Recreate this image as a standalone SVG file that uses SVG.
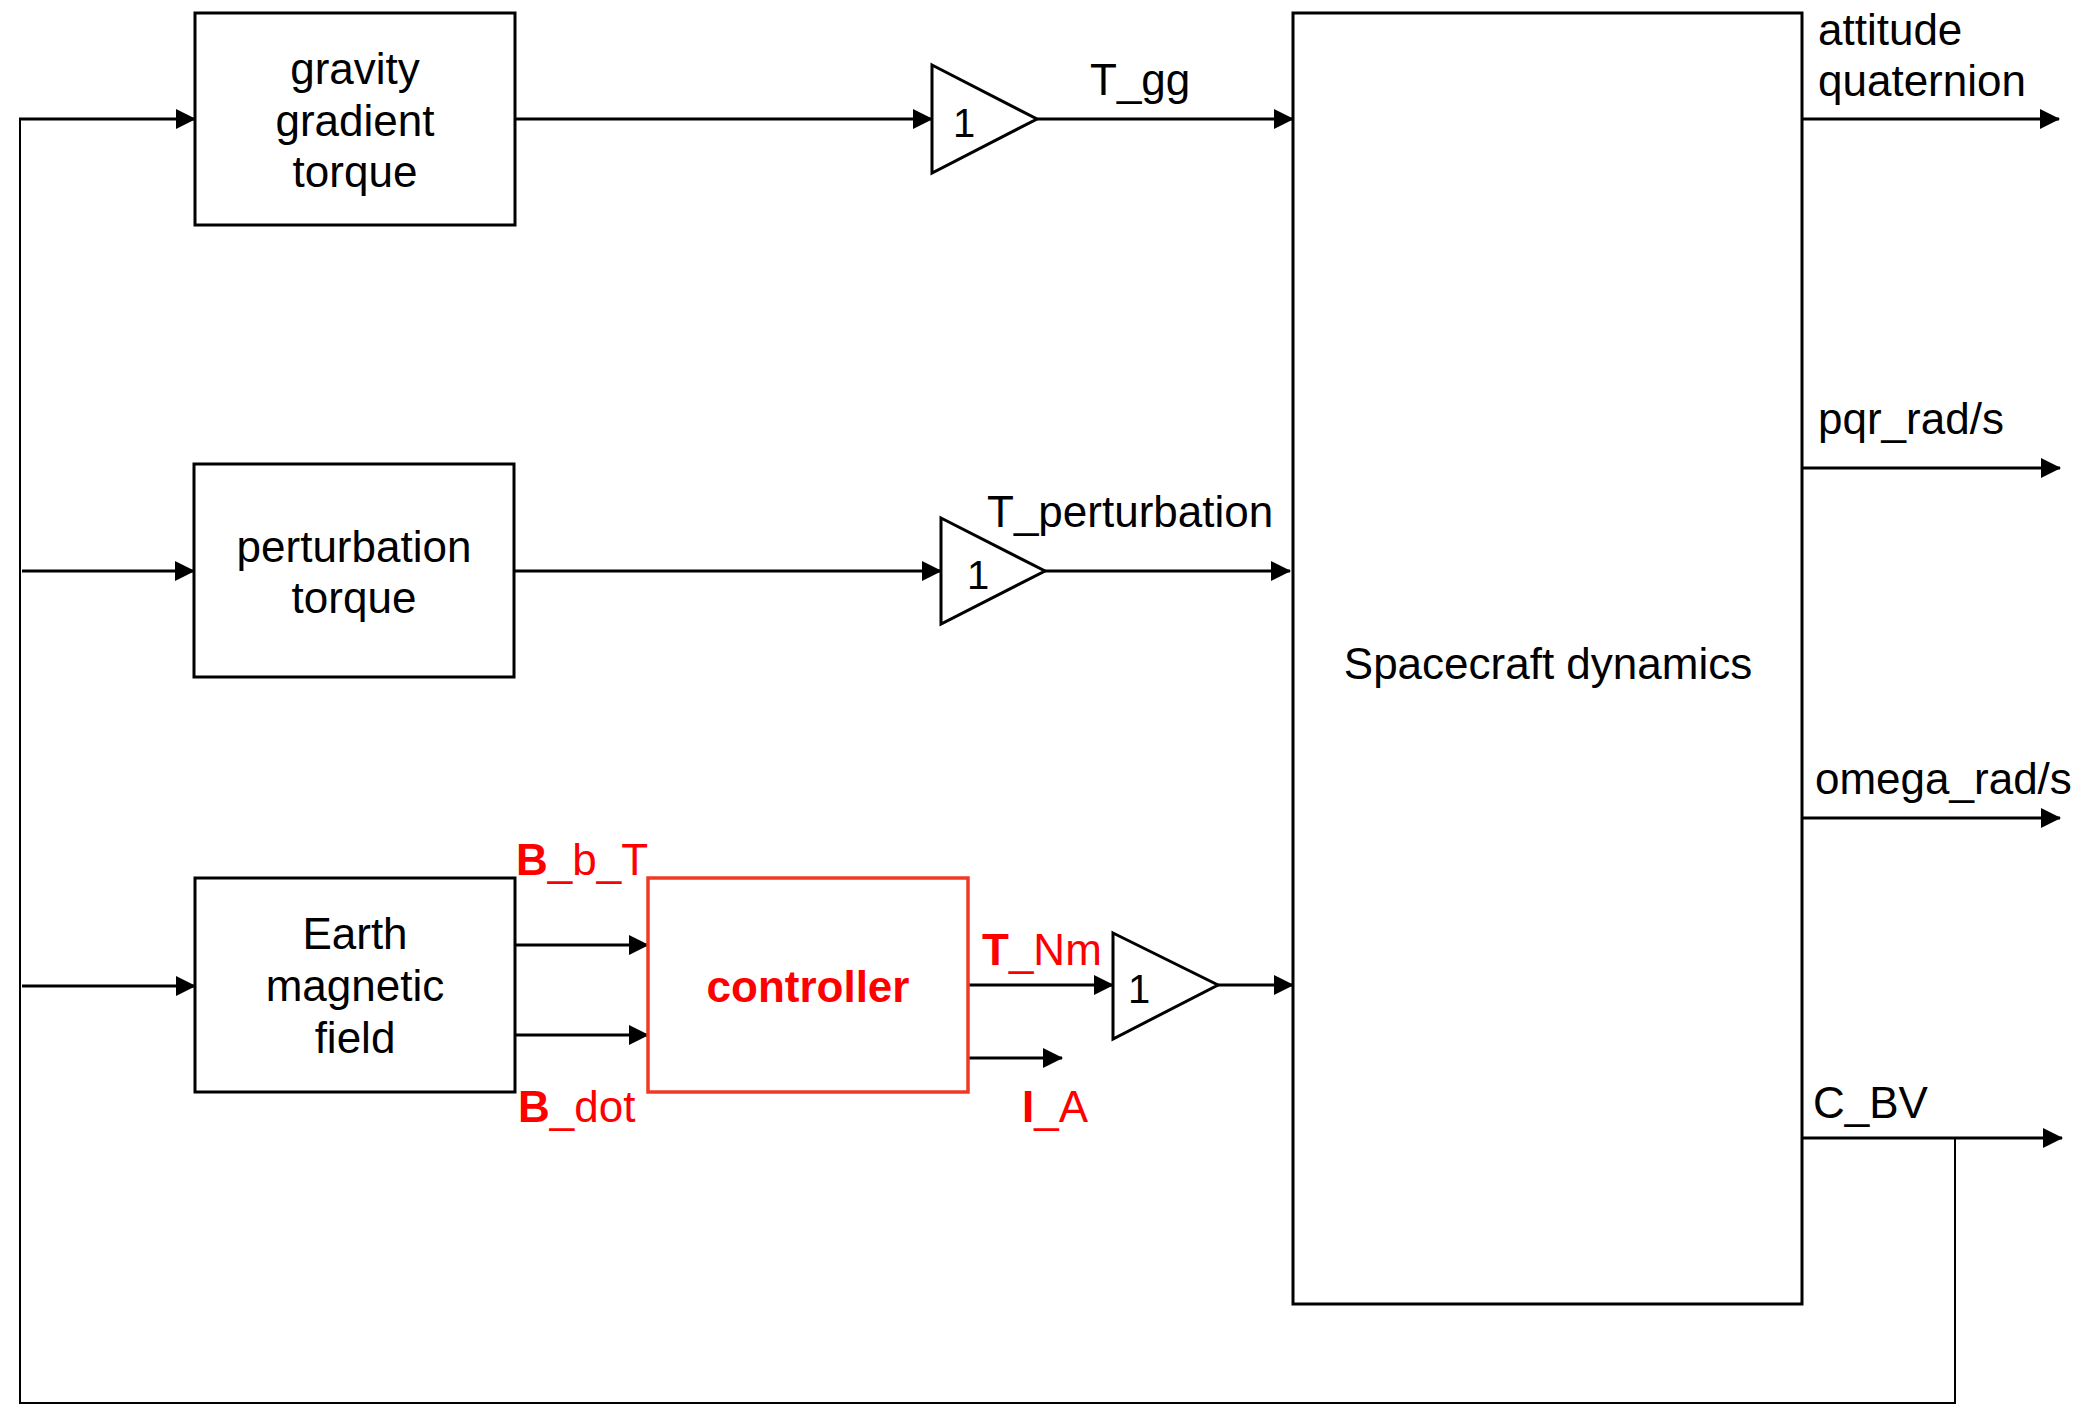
<svg xmlns="http://www.w3.org/2000/svg" width="2090" height="1405" viewBox="0 0 2090 1405">
<style>
text{font-family:"Liberation Sans",Arial,Helvetica,sans-serif;font-size:44px;fill:#000}
.c{text-anchor:middle}
.red{fill:#ff0000}
.b{font-weight:bold}
.blk{fill:#fff;stroke:#000;stroke-width:3}
.gain{fill:#fff;stroke:#000;stroke-width:3;stroke-linejoin:miter}
.w{fill:none;stroke:#000;stroke-width:3}
.fb{fill:none;stroke:#000;stroke-width:2}
.one{font-size:40px}
</style>
<defs>
<marker id="ah" viewBox="0 0 20 20" refX="19" refY="10" markerWidth="20" markerHeight="20" markerUnits="userSpaceOnUse" orient="auto">
<path d="M0,0 L20,10 L0,20 z" fill="#000"/>
</marker>
</defs>

<g id="connectors">
<polyline class="fb" points="1955,1138 1955,1403 20,1403 20,119"/>
<line class="w" x1="19" y1="119" x2="195" y2="119" marker-end="url(#ah)"/>
<line class="w" x1="22" y1="571" x2="194" y2="571" marker-end="url(#ah)"/>
<line class="w" x1="22" y1="986" x2="195" y2="986" marker-end="url(#ah)"/>
<line class="w" x1="515" y1="119" x2="932" y2="119" marker-end="url(#ah)"/>
<line class="w" x1="1037" y1="119" x2="1293" y2="119" marker-end="url(#ah)"/>
<line class="w" x1="514" y1="571" x2="941" y2="571" marker-end="url(#ah)"/>
<line class="w" x1="1045" y1="571" x2="1290" y2="571" marker-end="url(#ah)"/>
<line class="w" x1="515" y1="945" x2="648" y2="945" marker-end="url(#ah)"/>
<line class="w" x1="515" y1="1035" x2="648" y2="1035" marker-end="url(#ah)"/>
<line class="w" x1="968" y1="985" x2="1113" y2="985" marker-end="url(#ah)"/>
<line class="w" x1="968" y1="1058" x2="1062" y2="1058" marker-end="url(#ah)"/>
<line class="w" x1="1218" y1="985" x2="1293" y2="985" marker-end="url(#ah)"/>
<line class="w" x1="1802" y1="119" x2="2059" y2="119" marker-end="url(#ah)"/>
<line class="w" x1="1802" y1="468" x2="2060" y2="468" marker-end="url(#ah)"/>
<line class="w" x1="1802" y1="818" x2="2060" y2="818" marker-end="url(#ah)"/>
<line class="w" x1="1802" y1="1138" x2="2062" y2="1138" marker-end="url(#ah)"/>
<text x="1090" y="95">T_gg</text>
<text x="987" y="527">T_perturbation</text>
<text x="516" y="875" class="red"><tspan class="b">B</tspan>_b_T</text>
<text x="518" y="1122" class="red"><tspan class="b">B</tspan>_dot</text>
<text x="982" y="965" class="red"><tspan class="b">T</tspan>_Nm</text>
<text x="1022" y="1122" class="red"><tspan class="b">I</tspan>_A</text>
<text x="1818" y="45">attitude</text>
<text x="1818" y="96">quaternion</text>
<text x="1818" y="434">pqr_rad/s</text>
<text x="1815" y="794">omega_rad/s</text>
<text x="1813" y="1118">C_BV</text>
</g>

<g id="gravity">
<rect class="blk" x="195" y="13" width="320" height="212"/>
<text class="c" x="355" y="84">gravity</text>
<text class="c" x="355" y="136">gradient</text>
<text class="c" x="355" y="187">torque</text>
</g>

<g id="perturbation">
<rect class="blk" x="194" y="464" width="320" height="213"/>
<text class="c" x="354" y="562">perturbation</text>
<text class="c" x="354" y="613">torque</text>
</g>

<g id="earth">
<rect class="blk" x="195" y="878" width="320" height="214"/>
<text class="c" x="355" y="949">Earth</text>
<text class="c" x="355" y="1001">magnetic</text>
<text class="c" x="355" y="1053">field</text>
</g>

<g id="controller">
<rect x="648" y="878" width="320" height="214" fill="#fff" stroke="#f03a24" stroke-width="3.5"/>
<text class="c red b" x="808" y="1002">controller</text>
</g>

<g id="gain1">
<polygon class="gain" points="932,65 1037,119 932,173"/>
<text class="one" x="953" y="137">1</text>
</g>

<g id="gain2">
<polygon class="gain" points="941,518 1045,571 941,624"/>
<text class="one" x="967" y="589">1</text>
</g>

<g id="gain3">
<polygon class="gain" points="1113,933 1218,985 1113,1039"/>
<text class="one" x="1128" y="1003">1</text>
</g>

<g id="spacecraft">
<rect class="blk" x="1293" y="13" width="509" height="1291"/>
<text class="c" x="1548" y="679">Spacecraft dynamics</text>
</g>
</svg>
